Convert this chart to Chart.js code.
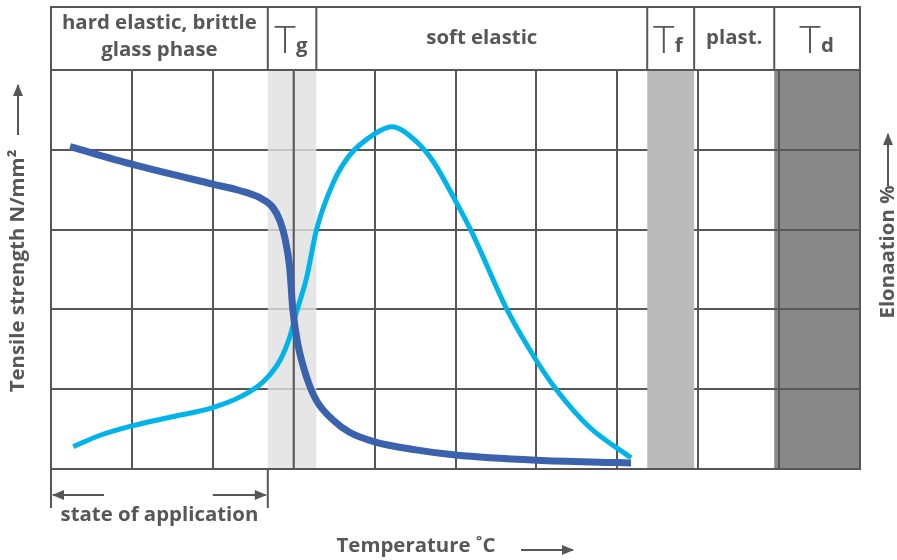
<!DOCTYPE html>
<html>
<head>
<meta charset="utf-8">
<script src="https://cdn.jsdelivr.net/npm/chart.js@4"></script>
<style>
html,body{margin:0;padding:0;background:#fff;}
#wrap{width:897px;height:560px;position:relative;}
</style>
</head>
<body>
<div id="wrap"><canvas id="c" width="897" height="560"></canvas></div>
<script>
// ---- data ----
const tensileX = [0.235, 1.0, 2.0, 2.33, 2.58, 2.74, 2.83, 2.89, 2.95, 2.99, 3.05, 3.16, 3.28, 3.49, 3.69, 4.0, 4.51, 5.0, 6.0, 7.0, 7.17];
const tensileY = [4.04, 3.82, 3.57, 3.49, 3.40, 3.28, 3.11, 2.9, 2.53, 1.99, 1.57, 1.15, 0.86, 0.61, 0.46, 0.34, 0.24, 0.175, 0.11, 0.08, 0.075];
const elongX = [0.275, 0.6, 1.0, 1.5, 2.0, 2.37, 2.62, 2.83, 2.95, 3.03, 3.16, 3.28, 3.49, 3.69, 4.0, 4.21, 4.51, 4.72, 5.0, 5.21, 5.64, 6.0, 6.25, 6.65, 7.17];
const elongY = [0.28, 0.42, 0.54, 0.655, 0.77, 0.92, 1.09, 1.36, 1.65, 1.95, 2.4, 2.99, 3.59, 3.93, 4.20, 4.29, 4.11, 3.86, 3.36, 2.95, 1.99, 1.36, 0.99, 0.53, 0.14];
// phase boundaries (x units)
const phaseEdges = [0, 2.68, 3.28, 7.37, 7.95, 8.94, 10];
const phaseLabels = ["hard elastic, brittle\nglass phase", "T|g", "soft elastic", "T|f", "plast.", "T|d"];
const bandTg = [2.68, 3.28];
const bandTf = [7.37, 7.95];
const bandTd = [8.94, 10];
const xTitle = "Temperature ˚C";
const yTitleLeft = "Tensile strength N/mm²";
const yTitleRight = "Elonaation %";
const bracketLabel = "state of application";

const INK = '#575757';
const FONT = '"Open Sans", "Noto Sans", sans-serif';
let FS = 18; // calibrated below

function arrow(ctx, x1, y1, x2, y2) {
  ctx.save();
  ctx.strokeStyle = INK; ctx.fillStyle = INK; ctx.lineWidth = 2;
  ctx.beginPath(); ctx.moveTo(x1, y1); ctx.lineTo(x2, y2); ctx.stroke();
  const a = Math.atan2(y2 - y1, x2 - x1);
  ctx.beginPath();
  ctx.moveTo(x2 + 1 * Math.cos(a), y2 + 1 * Math.sin(a));
  ctx.lineTo(x2 - 11 * Math.cos(a) + 5 * Math.sin(a), y2 - 11 * Math.sin(a) - 5 * Math.cos(a));
  ctx.lineTo(x2 - 11 * Math.cos(a) - 5 * Math.sin(a), y2 - 11 * Math.sin(a) + 5 * Math.cos(a));
  ctx.closePath(); ctx.fill();
  ctx.restore();
}

const decor = {
  id: 'decor',
  beforeDraw(chart) {
    const {ctx, chartArea: ca, scales: {x}} = chart;
    ctx.save();
    ctx.fillStyle = '#fff';
    ctx.fillRect(0, 0, chart.width, chart.height);
    ctx.fillStyle = '#888888';
    ctx.fillRect(x.getPixelForValue(bandTd[0]), ca.top, x.getPixelForValue(bandTd[1]) - x.getPixelForValue(bandTd[0]), ca.bottom - ca.top);
    ctx.restore();
  },
  beforeDatasetsDraw(chart) {
    const {ctx, chartArea: ca, scales: {x}} = chart;
    ctx.save();
    ctx.fillStyle = 'rgba(224,224,224,0.8)';
    ctx.fillRect(x.getPixelForValue(bandTg[0]), ca.top + 1, x.getPixelForValue(bandTg[1]) - x.getPixelForValue(bandTg[0]), ca.bottom - ca.top - 2);
    ctx.strokeStyle = INK; ctx.lineWidth = 2;
    ctx.beginPath(); ctx.moveTo(x.getPixelForValue(3), ca.top); ctx.lineTo(x.getPixelForValue(3), ca.bottom); ctx.stroke();
    ctx.fillStyle = '#bbbbbb';
    ctx.fillRect(x.getPixelForValue(bandTf[0]), ca.top + 1, x.getPixelForValue(bandTf[1]) - x.getPixelForValue(bandTf[0]), ca.bottom - ca.top - 2);
    ctx.restore();
  },
  afterDraw(chart) {
    const {ctx, chartArea: ca, scales: {x}} = chart;
    const top = 7;
    ctx.save();
    // calibrate label font so the first header line spans ~195px as in the reference
    ctx.font = 'bold 20px ' + FONT;
    FS = Math.round(20 * 195 / ctx.measureText('hard elastic, brittle').width * 10) / 10;
    const BF = 'bold ' + FS + 'px ' + FONT;
    ctx.strokeStyle = INK; ctx.lineWidth = 2;
    // header box
    const xl = x.getPixelForValue(phaseEdges[0]);
    const xr = x.getPixelForValue(phaseEdges[phaseEdges.length - 1]);
    ctx.strokeRect(xl, top, xr - xl, ca.top - top);
    ctx.beginPath();
    phaseEdges.slice(1, -1).forEach(v => {
      const px = x.getPixelForValue(v);
      ctx.moveTo(px, top); ctx.lineTo(px, ca.top);
    });
    ctx.stroke();
    // header labels
    ctx.fillStyle = INK;
    ctx.textAlign = 'center'; ctx.textBaseline = 'middle';
    phaseLabels.forEach((lab, i) => {
      const cx = (x.getPixelForValue(phaseEdges[i]) + x.getPixelForValue(phaseEdges[i + 1])) / 2;
      if (lab.includes('|')) {
        const [main, sub] = lab.split('|');
        ctx.font = '300 38px Lato, ' + FONT;
        ctx.textAlign = 'right';
        ctx.fillText(main, cx + 4, 41);
        ctx.font = BF;
        ctx.textAlign = 'left';
        ctx.fillText(sub, cx + 4, 46);
        ctx.textAlign = 'center';
      } else {
        ctx.font = BF;
        const lines = lab.split('\n');
        if (lines.length === 1) ctx.fillText(lines[0], cx, 38);
        else { ctx.fillText(lines[0], cx, 23); ctx.fillText(lines[1], cx, 50); }
      }
    });
    // bottom bracket
    const b0 = x.getPixelForValue(phaseEdges[0]);
    const b1 = x.getPixelForValue(phaseEdges[1]);
    ctx.beginPath();
    ctx.moveTo(b0, ca.bottom); ctx.lineTo(b0, 508);
    ctx.moveTo(b1, ca.bottom); ctx.lineTo(b1, 508);
    ctx.stroke();
    arrow(ctx, b0 + 53, 495, b0 + 2, 495);
    arrow(ctx, b1 - 55, 495, b1 - 2, 495);
    ctx.font = BF;
    ctx.fillText(bracketLabel, (b0 + b1) / 2, 515);
    // x title
    ctx.fillText(xTitle, 416, 546);
    arrow(ctx, 521, 550, 573, 550);
    // left title
    ctx.save();
    ctx.translate(18, 271); ctx.rotate(-Math.PI / 2);
    ctx.fillText(yTitleLeft, 0, 0);
    ctx.restore();
    arrow(ctx, 18, 135, 18, 85);
    // right title
    ctx.save();
    ctx.translate(888, 252); ctx.rotate(-Math.PI / 2);
    ctx.fillText(yTitleRight, 0, 0);
    ctx.restore();
    arrow(ctx, 888, 186, 888, 134);
    ctx.restore();
  }
};

new Chart(document.getElementById('c'), {
  type: 'line',
  data: {
    datasets: [
      {
        label: 'Tensile strength',
        data: tensileX.map((v, i) => ({x: v, y: tensileY[i]})),
        borderColor: '#3a62ad', borderWidth: 7, pointRadius: 0,
        cubicInterpolationMode: 'monotone', borderCapStyle: 'butt', borderJoinStyle: 'round', fill: false
      },
      {
        label: 'Elongation',
        data: elongX.map((v, i) => ({x: v, y: elongY[i]})),
        borderColor: '#00b4e9', borderWidth: 5, pointRadius: 0,
        cubicInterpolationMode: 'monotone', borderCapStyle: 'butt', borderJoinStyle: 'round', fill: false
      }
    ]
  },
  options: {
    responsive: false, animation: false,
    layout: {padding: {left: 51, right: 37, top: 70, bottom: 91}},
    plugins: {legend: {display: false}, tooltip: {enabled: false}},
    scales: {
      x: {
        type: 'linear', min: 0, max: 10,
        ticks: {display: false, stepSize: 1},
        grid: {color: INK, lineWidth: 2, drawTicks: false},
        border: {display: true, color: INK, width: 2}
      },
      y: {
        type: 'linear', min: 0, max: 5,
        ticks: {display: false, stepSize: 1},
        grid: {color: INK, lineWidth: 2, drawTicks: false},
        border: {display: true, color: INK, width: 2}
      }
    }
  },
  plugins: [decor]
});
</script>
</body>
</html>
